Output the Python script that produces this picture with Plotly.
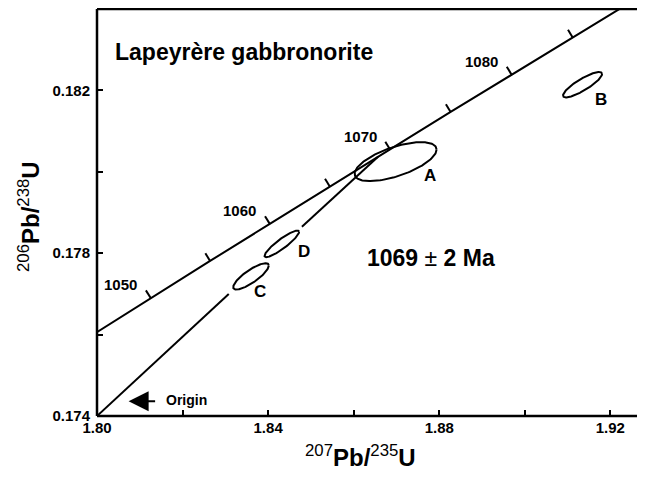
import numpy as np
import plotly.graph_objects as go

# ---------------- data ----------------
# Concordia reference points (age in Ma, 207Pb/235U, 206Pb/238U)
conc_age = [1040, 1045, 1050, 1055, 1060, 1065, 1070, 1075, 1080, 1085, 1090]
conc_x = [1.78499, 1.79874, 1.81255, 1.82644, 1.84039, 1.85441, 1.86850, 1.88266, 1.89689, 1.91119, 1.92556]
conc_y = [0.17507, 0.17598, 0.17690, 0.17781, 0.17872, 0.17964, 0.18055, 0.18147, 0.18239, 0.18330, 0.18422]
tick_ages = [1050, 1055, 1060, 1065, 1070, 1075, 1080, 1085]
label_ages = [1050, 1060, 1070, 1080]

# Discordia (toward origin), drawn in two pieces
disc_x = [1.8000, 1.8308, None, 1.8479, 1.8657]
disc_y = [0.17400, 0.17700, None, 0.17865, 0.18037]

# Error ellipses (fractions)
ell_names = ["A", "B", "C", "D"]
ell_x = [1.8698, 1.9135, 1.8360, 1.8432]
ell_sx = [0.00958, 0.00456, 0.00416, 0.00404]
ell_y = [0.18025, 0.18214, 0.17743, 0.17823]
ell_sy = [0.000479, 0.000312, 0.000324, 0.000327]
ell_rho = [0.62, 0.85, 0.82, 0.90]
ell_label_x = [1.8778, 1.9179, 1.8380, 1.8485]
ell_label_y = [0.17991, 0.18178, 0.17706, 0.17805]

x_ticks = [1.80, 1.84, 1.88, 1.92]
x_minor = [1.82, 1.86, 1.90]
y_ticks = [0.174, 0.178, 0.182]
y_minor = [0.176, 0.180]

# ---------------- layout geometry ----------------
# the page body adds an 8 px margin, so the figure is sized to fit inside it
OFF = 8
W, H = 629, 463
ML, MT = 97 - OFF, 9 - OFF
PW, PH = W - ML, 407
MR, MB = 0, H - MT - PH
xr = [1.80, 1.80 + PW / 4278.0]
yr = [0.174, 0.184]
kx = PW / (xr[1] - xr[0])
ky = PH / (yr[1] - yr[0])


def px(xw):   # window pixel -> paper x
    return (xw - OFF - ML) / PW


def py(yw):   # window pixel -> paper y
    return (MT + PH - (yw - OFF)) / PH


FONT = "Liberation Sans, Arial, Helvetica, sans-serif"
fig = go.Figure()

# concordia curve
fig.add_trace(go.Scatter(x=conc_x, y=conc_y, mode="lines",
                         line=dict(color="black", width=2), hoverinfo="skip"))

# concordia age ticks (perpendicular, upper-left side)
TL = 9
tx, ty = [], []
for a in tick_ages:
    i = conc_age.index(a)
    dxp = (conc_x[i + 1] - conc_x[i - 1]) * kx
    dyp = (conc_y[i + 1] - conc_y[i - 1]) * ky
    n = (dxp ** 2 + dyp ** 2) ** 0.5
    nx, ny = -dyp / n, dxp / n
    tx += [conc_x[i], conc_x[i] + nx * TL / kx, None]
    ty += [conc_y[i], conc_y[i] + ny * TL / ky, None]
fig.add_trace(go.Scatter(x=tx, y=ty, mode="lines",
                         line=dict(color="black", width=2), hoverinfo="skip"))

# discordia
fig.add_trace(go.Scatter(x=disc_x, y=disc_y, mode="lines",
                         line=dict(color="black", width=2), hoverinfo="skip"))

# ellipses
t = np.linspace(0, 2 * np.pi, 181)
for cx, sx, cy, sy, r in zip(ell_x, ell_sx, ell_y, ell_sy, ell_rho):
    ex = cx + sx * np.cos(t)
    ey = cy + sy * (r * np.cos(t) + np.sqrt(1 - r * r) * np.sin(t))
    fig.add_trace(go.Scatter(x=ex, y=ey, mode="lines",
                             line=dict(color="black", width=2), hoverinfo="skip"))

ann = []
for nm, lx, ly in zip(ell_names, ell_label_x, ell_label_y):
    ann.append(dict(x=lx, y=ly, text="<b>%s</b>" % nm, showarrow=False,
                    font=dict(size=17, color="black", family=FONT)))
for a in label_ages:
    i = conc_age.index(a)
    ann.append(dict(x=conc_x[i], y=conc_y[i], text="<b>%d</b>" % a, showarrow=False,
                    xshift=-30, yshift=13, font=dict(size=15, color="black", family=FONT)))

ann.append(dict(xref="paper", yref="paper", x=px(113), y=py(52),
                xanchor="left", yanchor="middle", showarrow=False,
                text="<b>Lapeyrère gabbronorite</b>", font=dict(size=23, color="black", family=FONT)))
ann.append(dict(xref="paper", yref="paper", x=px(365), y=py(258),
                xanchor="left", yanchor="middle", showarrow=False,
                text="<b>1069 </b>±<b> 2 Ma</b>", font=dict(size=23, color="black", family=FONT)))
# Origin arrow + label
ann.append(dict(x=1.80739, y=0.174364, ax=28, ay=0, text="", showarrow=True,
                arrowhead=2, arrowsize=2.0, arrowwidth=2, arrowcolor="black"))
ann.append(dict(x=1.81566, y=0.174405, xanchor="left", yanchor="middle", showarrow=False,
                text="<b>Origin</b>", font=dict(size=14, color="black", family=FONT)))
# axis titles
ann.append(dict(xref="paper", yref="paper", x=px(360), y=py(456),
                xanchor="center", yanchor="middle", showarrow=False,
                text="<sup>207</sup><b>Pb/</b><sup>235</sup><b>U</b>",
                font=dict(size=24, color="black", family=FONT)))
ann.append(dict(xref="paper", yref="paper", x=px(29), y=py(217),
                xanchor="center", yanchor="middle", showarrow=False, textangle=-90,
                text="<sup>206</sup><b>Pb/</b><sup>238</sup><b>U</b>",
                font=dict(size=24, color="black", family=FONT)))

# frame lines: left, bottom, top (no right spine in the reference)
frame = dict(type="line", xref="paper", yref="paper", line=dict(color="black", width=2.5), layer="above")
shapes = [dict(x0=0, x1=0, y0=0, y1=1, **frame),
          dict(x0=0, x1=1, y0=0, y1=0, **frame),
          dict(x0=0, x1=1, y0=1, y1=1, **frame)]

axis_common = dict(showgrid=False, zeroline=False, showline=False,
                   ticks="inside", ticklen=6, tickwidth=2, tickcolor="black",
                   tickfont=dict(size=15, color="black", family=FONT, weight="bold"))
fig.update_layout(
    width=W, height=H, margin=dict(l=ML, r=MR, t=MT, b=MB, pad=0),
    paper_bgcolor="white", plot_bgcolor="white", showlegend=False,
    xaxis=dict(range=xr, tickvals=x_ticks, ticktext=["%.2f" % v for v in x_ticks],
               minor=dict(tickvals=x_minor, ticks="inside", ticklen=6, tickwidth=2, tickcolor="black"),
               ticklabelstandoff=1, **axis_common),
    yaxis=dict(range=yr, tickvals=y_ticks, ticktext=["%.3f" % v for v in y_ticks],
               minor=dict(tickvals=y_minor, ticks="inside", ticklen=6, tickwidth=2, tickcolor="black"),
               ticklabelstandoff=6, **axis_common),
    shapes=shapes,
    annotations=ann,
)
fig.write_html("out.html")
